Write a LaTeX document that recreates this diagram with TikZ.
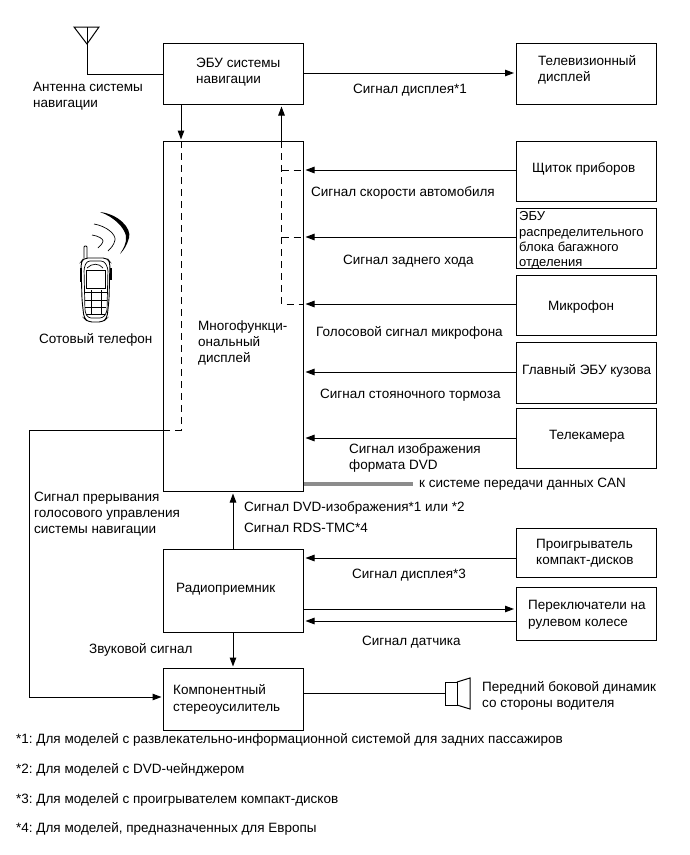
\documentclass[tikz,border=0pt]{standalone}
\usepackage{fontspec}
\setmainfont{Liberation Sans}
\usetikzlibrary{arrows.meta}
\tikzset{
  boxn/.style={draw=black,line width=1pt,fill=white,inner sep=0pt,anchor=north west},
  wire/.style={draw=black,line width=1pt},
  arr/.style={wire,shorten >=1.5pt,-{Triangle[length=9pt,width=6.5pt]}},
  dashwire/.style={draw=black,line width=1pt,dash pattern=on 7pt off 5pt},
  lab/.style={anchor=base west,inner sep=0pt,font=\fontsize{13.5}{15}\selectfont\frenchspacing},
  labs/.style={lab,font=\fontsize{13}{15}\selectfont\frenchspacing}
}
\newcommand{\bx}[5]{\node[boxn,minimum width=#3pt,minimum height=#4pt] (#5) at (#1,#2) {};}
\begin{document}
\begin{tikzpicture}[x=1pt,y=-1pt]
\useasboundingbox (0,0) rectangle (690,855);
\fill[white] (0,0) rectangle (690,855);
% boxes
\bx{163}{43}{140}{61}{ecu}
\bx{515.5}{43}{140.5}{61}{tv}
\bx{163}{141}{140}{350}{mfd}
\bx{515.5}{141}{140.5}{60}{cluster}
\bx{515.5}{208}{140.5}{60}{trunk}
\bx{515.5}{275}{140.5}{60}{mic}
\bx{515.5}{342}{140.5}{61}{body}
\bx{515.5}{408}{140.5}{60}{cam}
\bx{515.5}{528}{140.5}{49}{cd}
\bx{515.5}{587}{140.5}{53}{sw}
\bx{163}{549}{140}{83}{radio}
\bx{163}{668}{140}{62}{amp}
% antenna
\coordinate (anttop) at (87,27);
\coordinate (antbot) at (87,44);
\draw[wire,line join=miter] (74,27) -- (99,27) -- (antbot) -- cycle;
\draw[wire] (anttop) -- (87,74) -- (ecu.west |- 0,74);
% ecu to tv
\draw[arr] (ecu.east |- 0,73) -- (tv.west |- 0,73);
% ecu to mfd
\coordinate (downtop) at (181,141);
\coordinate (downbot) at (181,430);
\coordinate (uptop) at (281.5,141);
\coordinate (upbot) at (281.5,304);
\draw[arr] (ecu.south -| downtop) -- (downtop);
\draw[arr] (uptop) -- (ecu.south -| uptop);
\draw[dashwire] (downtop) -- (downbot) -- (mfd.west |- downbot);
\draw[dashwire] (uptop) -- (upbot) -- (mfd.east |- upbot);
\draw[dashwire] (uptop |- 0,170) -- (mfd.east |- 0,170);
\draw[dashwire] (uptop |- 0,237) -- (mfd.east |- 0,237);
% right side inputs
\draw[arr] (cluster.west |- 0,170) -- (mfd.east |- 0,170);
\draw[arr] (trunk.west |- 0,237) -- (mfd.east |- 0,237);
\draw[arr] (mic.west |- 0,304) -- (mfd.east |- 0,304);
\draw[arr] (body.west |- 0,372) -- (mfd.east |- 0,372);
\draw[arr] (cam.west |- 0,438) -- (mfd.east |- 0,438);
% gray line
\coordinate (cang) at (413,483.5);
\draw[draw=black!45,line width=4pt] (mfd.east |- cang) -- (cang);
% interrupt line
\draw[arr] (mfd.west |- 0,430) -- (29,430) -- (29,697) -- (amp.west |- 0,697);
% radio
\draw[arr] (radio.north -| 233,0) -- (mfd.south -| 233,0);
\draw[arr] (radio.south -| 233,0) -- (amp.north -| 233,0);
\draw[arr] (cd.west |- 0,558) -- (radio.east |- 0,558);
\draw[arr] (radio.east |- 0,609) -- (sw.west |- 0,609);
\draw[arr] (sw.west |- 0,621) -- (radio.east |- 0,621);
% speaker
\coordinate (spk) at (445,693);
\draw[wire] (amp.east |- spk) -- (spk);
\draw[wire] (445,682) rectangle (457,705);
\draw[wire] (457,682) -- (470,678) -- (470,709) -- (457,705);
% phone
\draw[line width=0.9pt,fill=white,rounded corners=1pt] (84,258) -- (84,246) -- (87,246) -- (87,258);
\draw[line width=0.9pt,rounded corners=4pt] (81,262) -- (84,258) -- (107,258) -- (110,262) -- (109,300) -- (107,318) -- (103,322) -- (88,322) -- (84,318) -- (82,300) -- cycle;
\draw[line width=0.7pt,rounded corners=3pt] (84,268) -- (87,261) -- (104,261) -- (108,268) -- (107,312) -- (103,318) -- (88,318) -- (85,312) -- cycle;
\draw[line width=1pt] (86,270) rectangle (105,288);
\draw[line width=0.7pt] (87,268) .. controls (92,263) and (99,263) .. (103,268);
\draw[line width=0.7pt] (85,292) -- (107,292) (85,300) -- (107,300) (85,307) -- (106,307) (86,314) -- (105,314);
\draw[line width=0.7pt] (91,290) -- (91,315) (101,290) -- (101,315);
\fill[black] (80,268) rectangle (82,282);
\fill[black] (110,268) rectangle (112,280);
\fill[black] (100,212) .. controls (118,214) and (132,228) .. (129,238) .. controls (127,245) and (124,250) .. (120,254) .. controls (123,249) and (127,243) .. (126,236) .. controls (124,227) and (114,217) .. (100,212) -- cycle;
\draw[line width=0.7pt] (94,224) .. controls (106,226) and (116,234) .. (115,240) .. controls (114,245) and (111,248) .. (108,251);
\draw[line width=0.7pt] (92,235) .. controls (99,236) and (103,239) .. (103,241) .. controls (103,243) and (100,246) .. (98,248);
% labels
\node[lab] (t1) at (196,67) {ЭБУ системы};
\node[lab] (t2) at (196,83) {навигации};
\node[lab] (t3) at (33,91) {Антенна системы};
\node[lab] (t4) at (33,107) {навигации};
\node[lab] (t5) at (353,93) {Сигнал дисплея*1};
\node[lab] (t6) at (538,65) {Телевизионный};
\node[lab] (t7) at (538,81) {дисплей};
\node[lab] (t8) at (532,172) {Щиток приборов};
\node[lab] (t9) at (311,196) {Сигнал скорости автомобиля};
\node[labs] (t10) at (519,220) {ЭБУ};
\node[labs] (t11) at (519,236) {распределительного};
\node[labs] (t12) at (519,251) {блока багажного};
\node[labs] (t13) at (519,266) {отделения};
\node[lab] (t14) at (343,264) {Сигнал заднего хода};
\node[lab] (t15) at (548,310) {Микрофон};
\node[lab] (t16) at (316,336) {Голосовой сигнал микрофона};
\node[lab] (t17) at (522,374) {Главный ЭБУ кузова};
\node[lab] (t18) at (320,398) {Сигнал стояночного тормоза};
\node[lab] (t19) at (549,439) {Телекамера};
\node[lab] (t20) at (349,453) {Сигнал изображения};
\node[lab] (t21) at (349,469) {формата DVD};
\node[lab] (t22) at (419,487) {к системе передачи данных CAN};
\node[lab] (t23) at (244,511) {Сигнал DVD-изображения*1 или *2};
\node[lab] (t24) at (244,532) {Сигнал RDS-TMC*4};
\node[lab] (t25) at (536,548) {Проигрыватель};
\node[lab] (t26) at (536,564) {компакт-дисков};
\node[lab] (t27) at (352,578) {Сигнал дисплея*3};
\node[lab] (t28) at (528,609) {Переключатели на};
\node[lab] (t29) at (528,626) {рулевом колесе};
\node[lab] (t30) at (362,645) {Сигнал датчика};
\node[lab] (t31) at (176,592) {Радиоприемник};
\node[lab] (t32) at (89,653) {Звуковой сигнал};
\node[lab] (t33) at (173,694) {Компонентный};
\node[lab] (t34) at (173,711) {стереоусилитель};
\node[lab] (t35) at (482,691) {Передний боковой динамик};
\node[lab] (t36) at (482,707) {со стороны водителя};
\node[lab] (t37) at (39,343) {Сотовый телефон};
\node[lab] (t38) at (198,330) {Многофункци-};
\node[lab] (t39) at (198,346) {ональный};
\node[lab] (t40) at (198,362) {дисплей};
\node[lab] (t41) at (34,501) {Сигнал прерывания};
\node[lab] (t42) at (34,517) {голосового управления};
\node[lab] (t43) at (34,533) {системы навигации};
\node[lab] (t44) at (16,743) {*1: Для моделей с развлекательно-информационной системой для задних пассажиров};
\node[lab] (t45) at (16,773) {*2: Для моделей с DVD-чейнджером};
\node[lab] (t46) at (16,803) {*3: Для моделей с проигрывателем компакт-дисков};
\node[lab] (t47) at (16,832) {*4: Для моделей, предназначенных для Европы};
\end{tikzpicture}
\end{document}
